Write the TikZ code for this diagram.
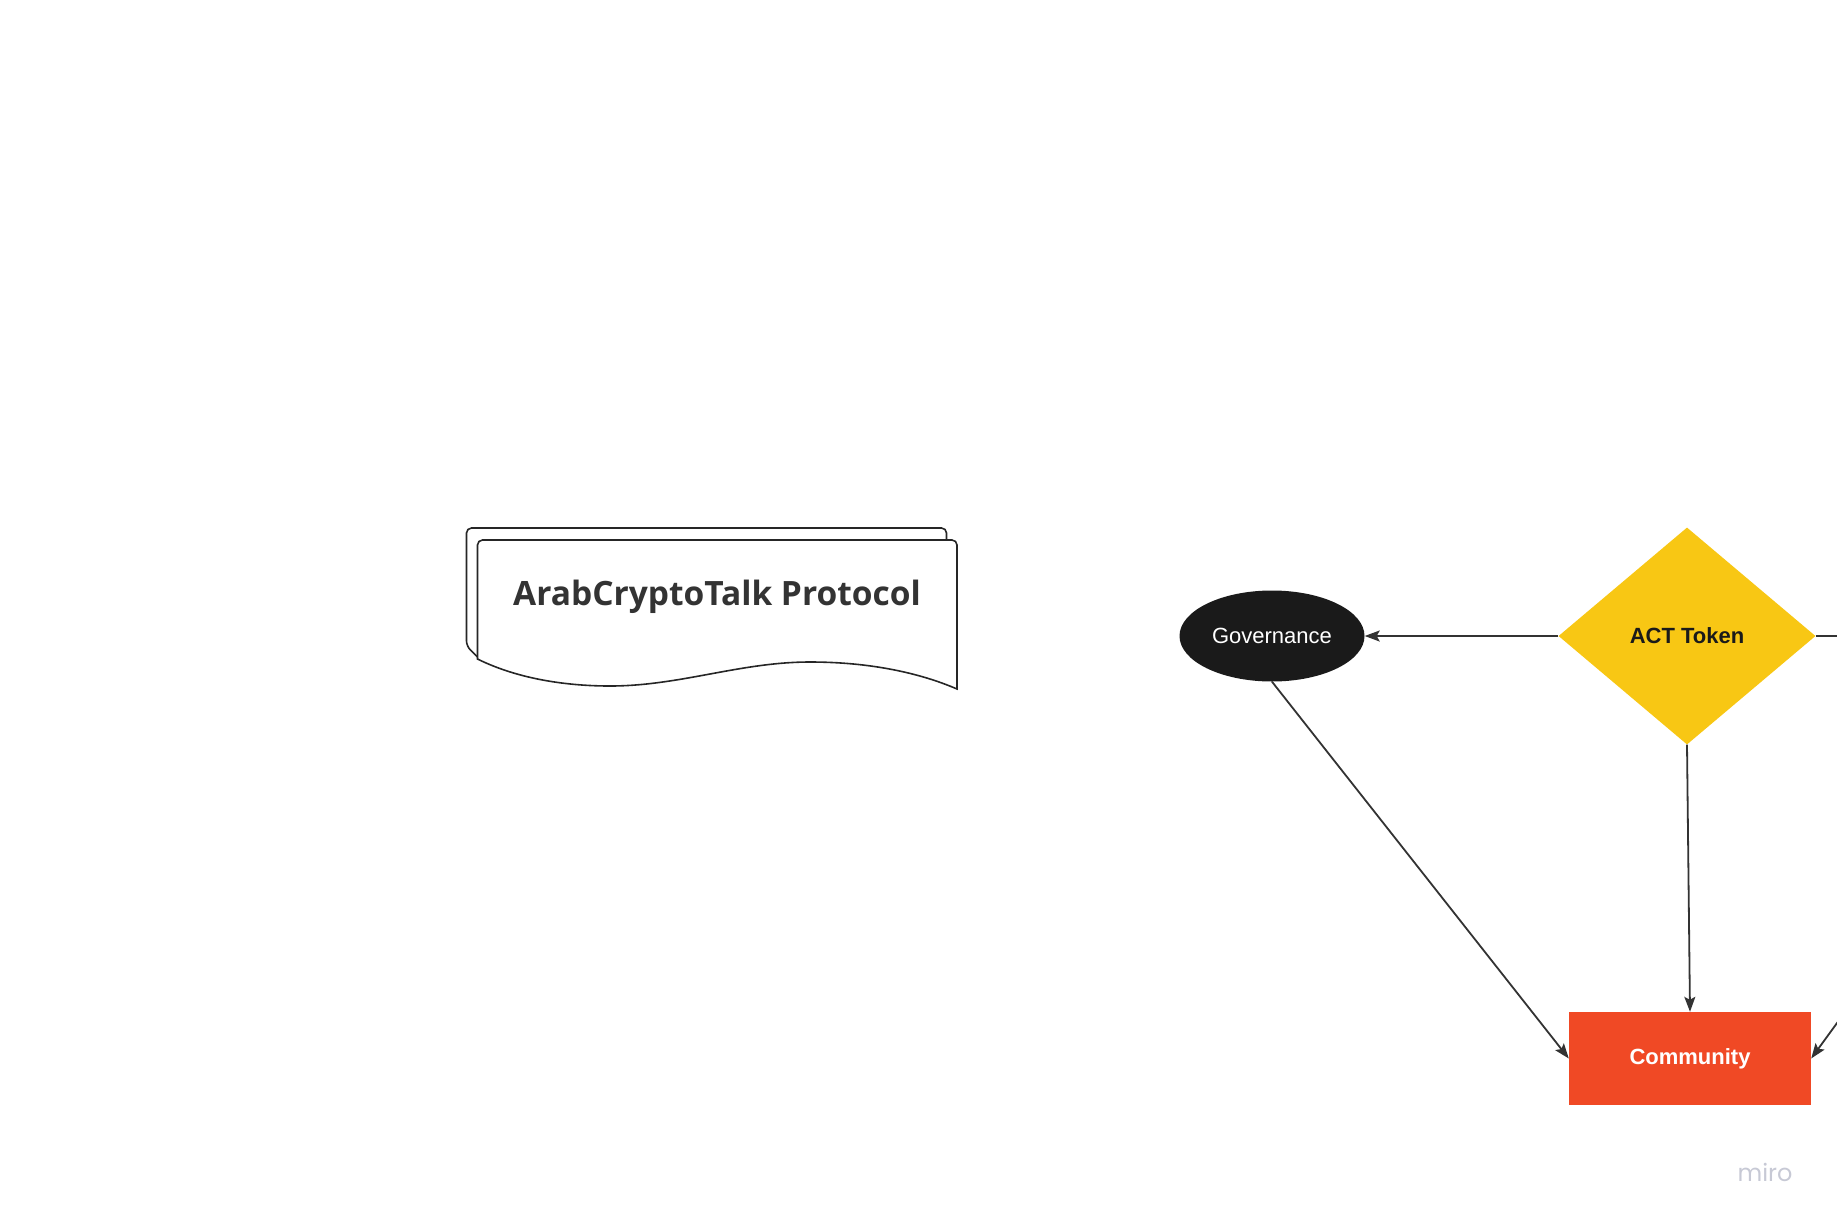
\documentclass[tikz,border=0pt]{standalone}
\usepackage{fontspec}
\setmainfont{Liberation Sans}
\newfontfamily\titlefont{Open Sans}
\newfontfamily\logofont{Poppins}
\usetikzlibrary{shapes.geometric,arrows.meta}
\definecolor{tokenyellow}{HTML}{F8C714}
\definecolor{commred}{HTML}{F04925}
\definecolor{govblack}{HTML}{1A1A1A}
\definecolor{linegray}{HTML}{333333}
\definecolor{mirogray}{HTML}{C7C9D5}

\begin{document}
\begin{tikzpicture}[x=1pt,y=-1pt,
  link/.style={draw=linegray,line width=1.8pt,-{Stealth[length=15pt,width=11pt,inset=3pt]}},
  plainlink/.style={draw=linegray,line width=1.8pt},
  docline/.style={draw=black!85,line width=1.6pt,fill=white,rounded corners=5pt},
  boxtext/.style={font=\fontsize{22}{26}\selectfont,inner sep=0pt}]
\useasboundingbox (0,0) rectangle (1837,1224);

% protocol document
\draw[docline] (477.5,657) -- (466.5,646) -- (466.5,528) -- (946.5,528) -- (946.5,542);
\draw[docline] (477.5,659) -- (477.5,540) -- (957,540) -- (957,600)
  {[sharp corners] -- (957,689) .. controls (920,673) and (870,662) .. (810,662)
  .. controls (740,662) and (680,686) .. (610,686)
  .. controls (570,686) and (520,680) .. (477.5,659)} -- cycle;
\node[text=linegray,font=\titlefont\bfseries\fontsize{33.5}{40}\selectfont] (title) at (717,597) {ArabCryptoTalk Protocol};

\node[boxtext,ellipse,fill=govblack,text=white,minimum width=185pt,minimum height=91pt] (gov) at (1272,636) {Governance};
\node[boxtext,diamond,fill=tokenyellow,text=govblack,font=\bfseries\fontsize{22}{26}\selectfont,minimum width=257pt,minimum height=217pt] (token) at (1687,636) {ACT Token};
\node[boxtext,rectangle,fill=commred,text=white,font=\bfseries\fontsize{22}{26}\selectfont,minimum width=242pt,minimum height=93pt] (comm) at (1690,1058.5) {Community};

\coordinate (edgeA) at (1837,636);
\coordinate (edgeB) at (1845,1012);

\draw[link] (token.west) -- (gov.east);
\draw[plainlink] (token.east) -- (edgeA);
\draw[link] (token.south) -- (comm.north);
\draw[link] (gov.south) -- (comm.west);
\draw[link] (edgeB) -- (comm.east);

\node[text=mirogray,font=\logofont\fontsize{24}{28}\selectfont] (logo) at (1765,1172) {miro};
\end{tikzpicture}
\end{document}
